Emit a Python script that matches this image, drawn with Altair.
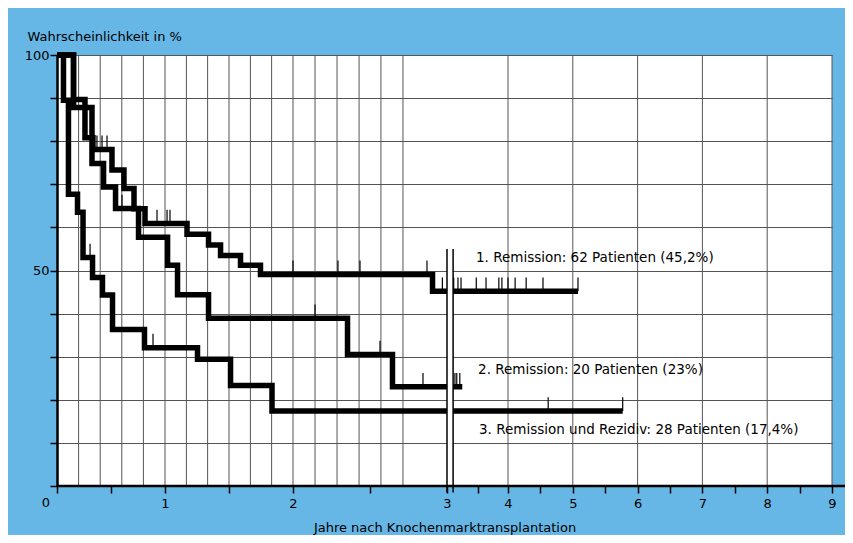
import altair as alt
import pandas as pd

# ---- data (years after transplant, survival %) ----
c1_t = [0, 0.153, 0.259, 0.333, 0.509, 0.620, 0.713, 0.815, 1.172, 1.340, 1.434, 1.590, 1.746, 2.906, 5.08]
c1_s = [100, 89.7, 80.8, 78.1, 73.3, 69.0, 64.3, 60.9, 58.4, 55.9, 53.5, 51.2, 49.1, 45.2, 45.2]

c2_t = [0, 0.153, 0.324, 0.431, 0.542, 0.755, 1.020, 1.098, 1.340, 2.354, 2.646, 3.25]
c2_s = [100, 87.8, 74.8, 69.4, 64.4, 57.7, 51.2, 44.4, 38.9, 30.5, 23.0, 23.0]

c3_t = [0, 0.060, 0.106, 0.190, 0.241, 0.329, 0.421, 0.514, 0.810, 1.254, 1.512, 1.836, 5.77]
c3_s = [100, 89.5, 67.7, 63.5, 53.0, 48.4, 44.3, 36.3, 32.1, 29.4, 23.3, 17.4, 17.4]

# censored observations (small vertical ticks)
k1_t = [0.370, 0.417, 0.463, 0.926, 1.016, 1.039, 2.0, 2.292, 2.435, 2.87, 2.97, 3.11, 3.18, 3.23,
        3.48, 3.64, 3.85, 3.90, 4.0, 4.11, 4.28, 4.54, 5.08]
k1_s = [78.1, 78.1, 78.1, 60.9, 60.9, 60.9, 49.1, 49.1, 49.1, 49.1, 45.2, 45.2, 45.2, 45.2,
        45.2, 45.2, 45.2, 45.2, 45.2, 45.2, 45.2, 45.2, 45.2]
k2_t = [0.602, 2.143, 2.565, 2.844, 3.13, 3.16, 3.21]
k2_s = [64.4, 38.9, 30.5, 23.0, 23.0, 23.0, 23.0]
k3_t = [0.306, 0.889, 4.62, 5.77]
k3_s = [53.0, 32.1, 17.4, 17.4]

labels = ["1. Remission: 62 Patienten (45,2%)",
          "2. Remission: 20 Patienten (23%)",
          "3. Remission und Rezidiv: 28 Patienten (17,4%)"]
label_t = [3.475, 3.51, 3.525]
label_s = [52.9, 26.9, 13.0]

# vertical grid lines (the axis is not uniform between 0 and 3)
vgrid_t = [0.2, 0.4, 0.6, 0.8, 1, 1.167, 1.333, 1.5, 1.667, 1.833, 2,
           2.143, 2.286, 2.429, 2.571, 2.714, 4, 5, 6, 7, 8, 9]
xtick_t = [0] + vgrid_t[:16] + [3, 3.1] + vgrid_t[16:]
ytick_s = list(range(0, 101, 10))

# axis break between 3 and 3.1
break_lo, break_hi, break_top = 3.0, 3.1, 55
axis_end = 9.23

FONT = "DejaVu Sans"

xs = alt.Scale(domain=[0, 1, 2, 3, 4, 9], range=[0, 108, 236, 390, 451, 775], nice=False)
ys = alt.Scale(domain=[0, 100], nice=False)

curves = pd.DataFrame({
    "t": c1_t + c2_t + c3_t,
    "s": c1_s + c2_s + c3_s,
    "k": ["1"] * len(c1_t) + ["2"] * len(c2_t) + ["3"] * len(c3_t),
    "i": list(range(len(c1_t))) + list(range(len(c2_t))) + list(range(len(c3_t))),
})
ticks = pd.DataFrame({"t": k1_t + k2_t + k3_t, "s": k1_s + k2_s + k3_s})
vgrid = pd.DataFrame({"t": vgrid_t})
texts = pd.DataFrame({"t": label_t, "s": label_s, "txt": labels})
brk = pd.DataFrame({"a": [break_lo], "b": [break_hi], "y0": [0], "y1": [break_top]})
brk_lines = pd.DataFrame({"t": [break_lo, break_hi], "y0": [-1.5, -1.5], "y1": [break_top, break_top]})
xline = pd.DataFrame({"a": [0], "b": [axis_end], "y": [0]})
zero = pd.DataFrame({"t": [0], "s": [0], "txt": ["0"]})

X_TITLE = "Jahre nach Knochenmarktransplantation"
Y_TITLE = "Wahrscheinlichkeit in %"

def X(field):
    return alt.X(field, scale=xs, title=X_TITLE)

def Y(field):
    return alt.Y(field, scale=ys, title=Y_TITLE)

grid_layer = alt.Chart(vgrid).mark_rule(color="#555555", strokeWidth=1).encode(x=X("t:Q"))

curve_layer = alt.Chart(curves).mark_line(
    interpolate="step-after", strokeWidth=5.5, color="black", strokeJoin="miter"
).encode(x=X("t:Q"), y=Y("s:Q"), detail="k:N", order="i:Q")

tick_layer = alt.Chart(ticks).transform_calculate(top="datum.s + 3.2").mark_rule(
    color="black", strokeWidth=1.2
).encode(x=X("t:Q"), y=Y("s:Q"), y2="top:Q")

break_rect = alt.Chart(brk).mark_rect(color="white").encode(
    x=X("a:Q"), x2="b:Q", y=Y("y0:Q"), y2="y1:Q"
)
break_rules = alt.Chart(brk_lines).mark_rule(color="black", strokeWidth=1.5).encode(
    x=X("t:Q"), y=Y("y0:Q"), y2="y1:Q"
)
xline_layer = alt.Chart(xline).mark_rule(color="black", strokeWidth=2.5).encode(
    x=X("a:Q"), x2="b:Q", y=Y("y:Q")
)
text_layer = alt.Chart(texts).mark_text(
    align="left", baseline="middle", font=FONT, fontSize=13.5, color="black"
).encode(x=X("t:Q"), y=Y("s:Q"), text="txt:N")
zero_layer = alt.Chart(zero).mark_text(
    align="center", baseline="middle", font=FONT, fontSize=13, color="black", dx=-11, dy=17
).encode(x=X("t:Q"), y=Y("s:Q"), text="txt:N")

chart = alt.layer(
    grid_layer, curve_layer, tick_layer, break_rect, break_rules, xline_layer, text_layer, zero_layer
).properties(
    width=775, height=431,
    autosize=alt.AutoSizeParams(type="none"),
    padding={"left": 49, "top": 47, "right": 13, "bottom": 49},
    background="#66b6e6",
).configure_view(
    stroke=None, fill="white"
).configure_axis(
    labelFont=FONT, labelFontSize=13, labelColor="black",
    titleFont=FONT, titleFontSize=13, titleFontWeight="normal", titleColor="black",
    ticks=True, tickColor="black", tickWidth=1.5, tickSize=7,
    labelOverlap=False, labelFlush=False, labelBound=False,
).configure_axisX(
    values=xtick_t,
    labelExpr="(datum.value > 0 && datum.value % 1 == 0) ? format(datum.value, 'd') : ''",
    grid=False, domain=False, labelPadding=4,
    titleY=45, titleBaseline="alphabetic",
).configure_axisY(
    values=ytick_s,
    labelExpr="(datum.value == 50 || datum.value == 100) ? datum.label : ''",
    grid=True, gridColor="#555555", gridWidth=1,
    domain=True, domainColor="black", domainWidth=2.5, labelPadding=1,
    titleAngle=0, titleAlign="left", titleBaseline="alphabetic", titleX=-30, titleY=-15,
)

chart.save("out.html", embed_options={"renderer": "svg", "actions": False})
